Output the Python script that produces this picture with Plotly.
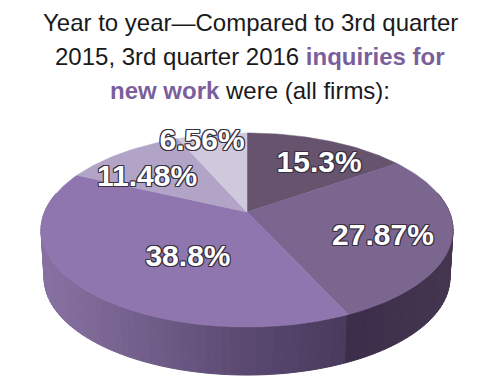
import math
import plotly.graph_objects as go

# --- data ---
values = [15.3, 27.87, 38.8, 11.48, 6.56]
labels = ["15.3%", "27.87%", "38.8%", "11.48%", "6.56%"]
top_colors = ["#66546f", "#7b6690", "#8f76ae", "#b1a4c7", "#cfc9dd"]
title_lines = [
    "Year to year\u2014Compared to 3rd quarter",
    "2015, 3rd quarter 2016 <b><span style='color:#7b5f9c'>inquiries for</span></b>",
    "<b><span style='color:#7b5f9c'>new work</span></b> were (all firms):",
]

# --- drawing geometry (perspective view of the pie disc, in page pixels) ---
CX, CY, A, B, K = 247, 212, 202.4, 93.7, 0.1856
DEPTH, BASE_SCALE = 48, 0.985
LABEL_PLACE = [(0.723, 5.7), (0.682, 4.1), (0.501, -12.8), (0.682, -7.1), (0.933, -4.3)]
LABEL_DROP = 3
TITLE_Y = [22, 56, 90]
FONT = "Liberation Sans, Arial, sans-serif"


def project(deg, r=1.0, dy=0.0, scale=1.0):
    t = math.radians(deg)
    u, v = r * math.sin(t), r * math.cos(t)
    d = 1 + K * v
    return CX + scale * A * u / d, CY - B * v / d + dy


def hex_mix(c1, c2, f):
    a = [int(c1[i:i + 2], 16) for i in (1, 3, 5)]
    b = [int(c2[i:i + 2], 16) for i in (1, 3, 5)]
    return "#%02x%02x%02x" % tuple(round(p + (q - p) * f) for p, q in zip(a, b))


def wall_color(deg, x):
    if deg < bounds[2]:
        return hex_mix("#3c2d4a", "#44354f", min(max((x - 347) / 100, 0), 1))
    stops = [(44, "#8771a2"), (110, "#7a6592"), (190, "#67547f"), (250, "#594870"), (347, "#483a5d")]
    for (x0, c0), (x1, c1) in zip(stops, stops[1:]):
        if x <= x1:
            return hex_mix(c0, c1, max((x - x0) / (x1 - x0), 0))
    return stops[-1][1]


total = sum(values)
bounds = [0.0]
for v in values:
    bounds.append(bounds[-1] + v / total * 360)

fig = go.Figure()


def poly(xs, ys, color):
    fig.add_trace(go.Scatter(x=xs, y=ys, mode="lines", fill="toself", fillcolor=color,
                             line=dict(color=color, width=1), hoverinfo="skip", showlegend=False))


# side wall, visible along the front of the disc
STEP = 2.0
deg = 78.0
while deg < 282.0:
    d2 = deg + STEP
    p = [project(deg), project(d2), project(d2, dy=DEPTH, scale=BASE_SCALE), project(deg, dy=DEPTH, scale=BASE_SCALE)]
    xm = (p[0][0] + p[1][0]) / 2
    poly([q[0] for q in p] + [p[0][0]], [q[1] for q in p] + [p[0][1]], wall_color(deg + 1, xm))
    deg = d2

# top face slices
for i, c in enumerate(top_colors):
    n = max(int((bounds[i + 1] - bounds[i]) / 1.0), 2)
    pts = [project(bounds[i] + (bounds[i + 1] - bounds[i]) * j / n) for j in range(n + 1)]
    xs = [CX] + [q[0] for q in pts] + [CX]
    ys = [CY] + [q[1] for q in pts] + [CY]
    fig.add_trace(go.Scatter(x=xs, y=ys, mode="lines", fill="toself", fillcolor=c,
                             line=dict(color=c, width=0.5), hoverinfo="skip", showlegend=False))

# labels
lx, ly = [], []
for i, (r, dt) in enumerate(LABEL_PLACE):
    px, py = project((bounds[i] + bounds[i + 1]) / 2 + dt, r=r)
    lx.append(px)
    ly.append(py + LABEL_DROP)
outline = ",".join(f"{a}px {b}px 0 #3a3040" for a, b in
                   [(-1, -1), (0, -1), (1, -1), (-1, 0), (1, 0), (-1, 1), (0, 1), (1, 1)])
fig.add_trace(go.Scatter(x=lx, y=ly, mode="text", text=labels, textposition="middle center",
                         textfont=dict(family=FONT, size=30, color="white", weight="bold", shadow=outline),
                         hoverinfo="skip", showlegend=False))

fig.update_layout(
    width=500, height=383, margin=dict(l=0, r=0, t=0, b=0),
    paper_bgcolor="white", plot_bgcolor="white",
    xaxis=dict(range=[0, 500], visible=False, domain=[0, 1], fixedrange=True),
    yaxis=dict(range=[383, 0], visible=False, domain=[0, 1], fixedrange=True),
    annotations=[
        dict(text=t, x=250, y=yy, xref="x", yref="y", xanchor="center", yanchor="middle", showarrow=False,
             font=dict(family=FONT, size=24, color="#1a1a1a"))
        for t, yy in zip(title_lines, TITLE_Y)
    ],
)
fig.write_html("out.html", post_script="document.body.style.margin='0';", config={"displayModeBar": False})
